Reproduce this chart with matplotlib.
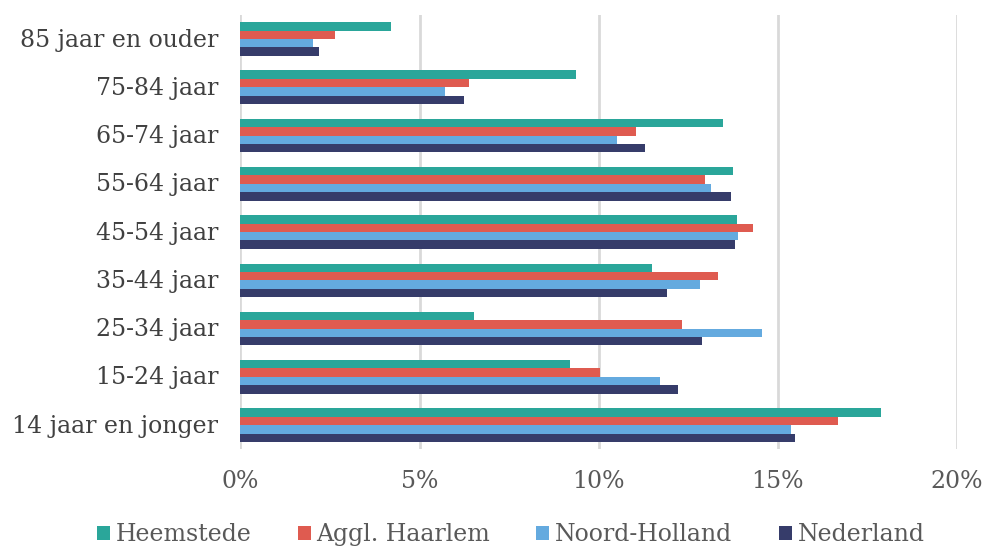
import numpy as np
import matplotlib
matplotlib.use('Agg')
import matplotlib.pyplot as plt

# age groups, bottom to top as drawn
categories = ['14 jaar en jonger', '15-24 jaar', '25-34 jaar', '35-44 jaar',
              '45-54 jaar', '55-64 jaar', '65-74 jaar', '75-84 jaar',
              '85 jaar en ouder']

# share of population per age group (%)
heemstede     = [17.89, 9.20, 6.51, 11.48, 13.85, 13.74, 13.48, 9.37, 4.19]
aggl_haarlem  = [16.68, 10.05, 12.33, 13.33, 14.32, 12.96, 11.04, 6.38, 2.65]
noord_holland = [15.38, 11.71, 14.55, 12.82, 13.89, 13.15, 10.52, 5.72, 2.02]
nederland     = [15.49, 12.22, 12.88, 11.90, 13.81, 13.70, 11.29, 6.24, 2.20]

series = [('Heemstede', heemstede, '#2aa69a'),
          ('Aggl. Haarlem', aggl_haarlem, '#df5b50'),
          ('Noord-Holland', noord_holland, '#64aadf'),
          ('Nederland', nederland, '#363c6a')]

xticks = [0, 5, 10, 15, 20]

plt.rcParams['font.family'] = ['DejaVu Serif']

fig = plt.figure(figsize=(9.84, 5.49), dpi=100)
ax = fig.add_axes([0.2444, 0.1816, 0.728, 0.7914])

h = 0.174
y = np.arange(len(categories))
offsets = [1.5, 0.5, -0.5, -1.5]
for (name, vals, col), off in zip(series, offsets):
    ax.barh(y + off * h, vals, height=h, color=col, label=name, zorder=3)

ax.set_xlim(0, 20)
ax.set_ylim(-0.5, len(categories) - 0.5)
ax.set_xticks(xticks)
ax.set_xticklabels(['{}%'.format(t) for t in xticks], fontsize=17, color='#595959')
ax.set_yticks(y + 0.03)
ax.set_yticklabels(categories, fontsize=17, color='#404040')
ax.tick_params(axis='both', length=0)
ax.tick_params(axis='x', pad=15)
ax.tick_params(axis='y', pad=16)
ax.grid(axis='x', color='#d9d9d9', linewidth=2, zorder=0)
for s in ax.spines.values():
    s.set_visible(False)

handles, labels = ax.get_legend_handles_labels()
fig.legend(handles, labels, loc='center', bbox_to_anchor=(0.519, 0.026), ncol=4,
           frameon=False, fontsize=17, labelcolor='#595959',
           handlelength=0.55, handleheight=0.55, handletextpad=0.25, columnspacing=1.95)

fig.savefig('out.png', dpi=100)
